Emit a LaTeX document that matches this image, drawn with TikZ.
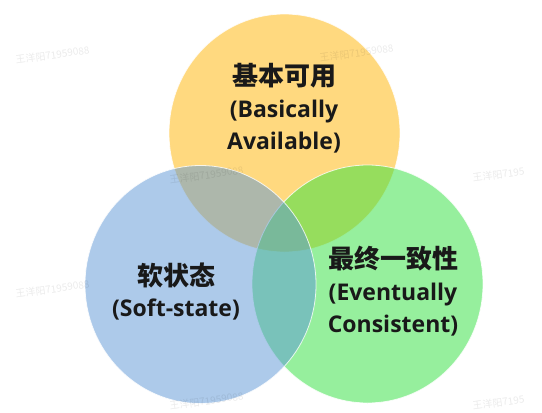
\documentclass[tikz,border=0pt]{standalone}
\usepackage{fontspec}
\setmainfont{Open Sans}
\newfontfamily\cjk{Noto Sans CJK SC}
\definecolor{cy}{RGB}{255,180,0}
\definecolor{cg}{RGB}{47,225,61}
\definecolor{cb}{RGB}{93,151,215}
\tikzset{
  setc/.style={fill=#1, fill opacity=0.5, draw=white, draw opacity=0.8, line width=0.8pt},
  zh/.style={anchor=base, inner sep=0pt, font=\cjk\bfseries\fontsize{26}{30}\selectfont, text=black!90},
  en/.style={anchor=base, inner sep=0pt, font=\bfseries\fontsize{23}{30}\selectfont, text=black!90},
  wm/.style={anchor=base west, inner sep=0pt, rotate=8, font=\cjk\fontsize{10}{12}\selectfont, text=black, text opacity=0.08}
}
\begin{document}
\begin{tikzpicture}[x=1pt,y=-1pt]
\useasboundingbox (0,0) rectangle (542,413);
\fill[white] (0,0) rectangle (542,413);
% circles: yellow, green, blue (order matters for blending)
\path[setc=cy] (284.5,133) ellipse [x radius=115.5, y radius=119];
\path[setc=cg] (367.5,284) ellipse [x radius=115.5, y radius=119];
\path[setc=cb] (200.5,284.5) ellipse [x radius=115.5, y radius=119];
% labels
\node[zh] (a1) at (284,85) {基本可用};
\node[en] (a2) at (284,117) {(Basically};
\node[en] (a3) at (284,149) {Available)};
\node[zh] (s1) at (176,285) {软状态};
\node[en] (s2) at (176,316) {(Soft-state)};
\node[zh] (e1) at (393,268) {最终一致性};
\node[en] (e2) at (393,300) {(Eventually};
\node[en] (e3) at (393,332) {Consistent)};
% watermarks
\node[wm] (w1) at (16,64) {王洋阳71959088};
\node[wm] (w2) at (320,62) {王洋阳71959088};
\node[wm] (w3) at (170,184) {王洋阳71959088};
\node[wm] (w4) at (473,182) {王洋阳7195};
\node[wm] (w5) at (16,298) {王洋阳71959088};
\node[wm] (w7) at (170,410) {王洋阳71959088};
\node[wm] (w8) at (473,410) {王洋阳7195};
\end{tikzpicture}
\end{document}
